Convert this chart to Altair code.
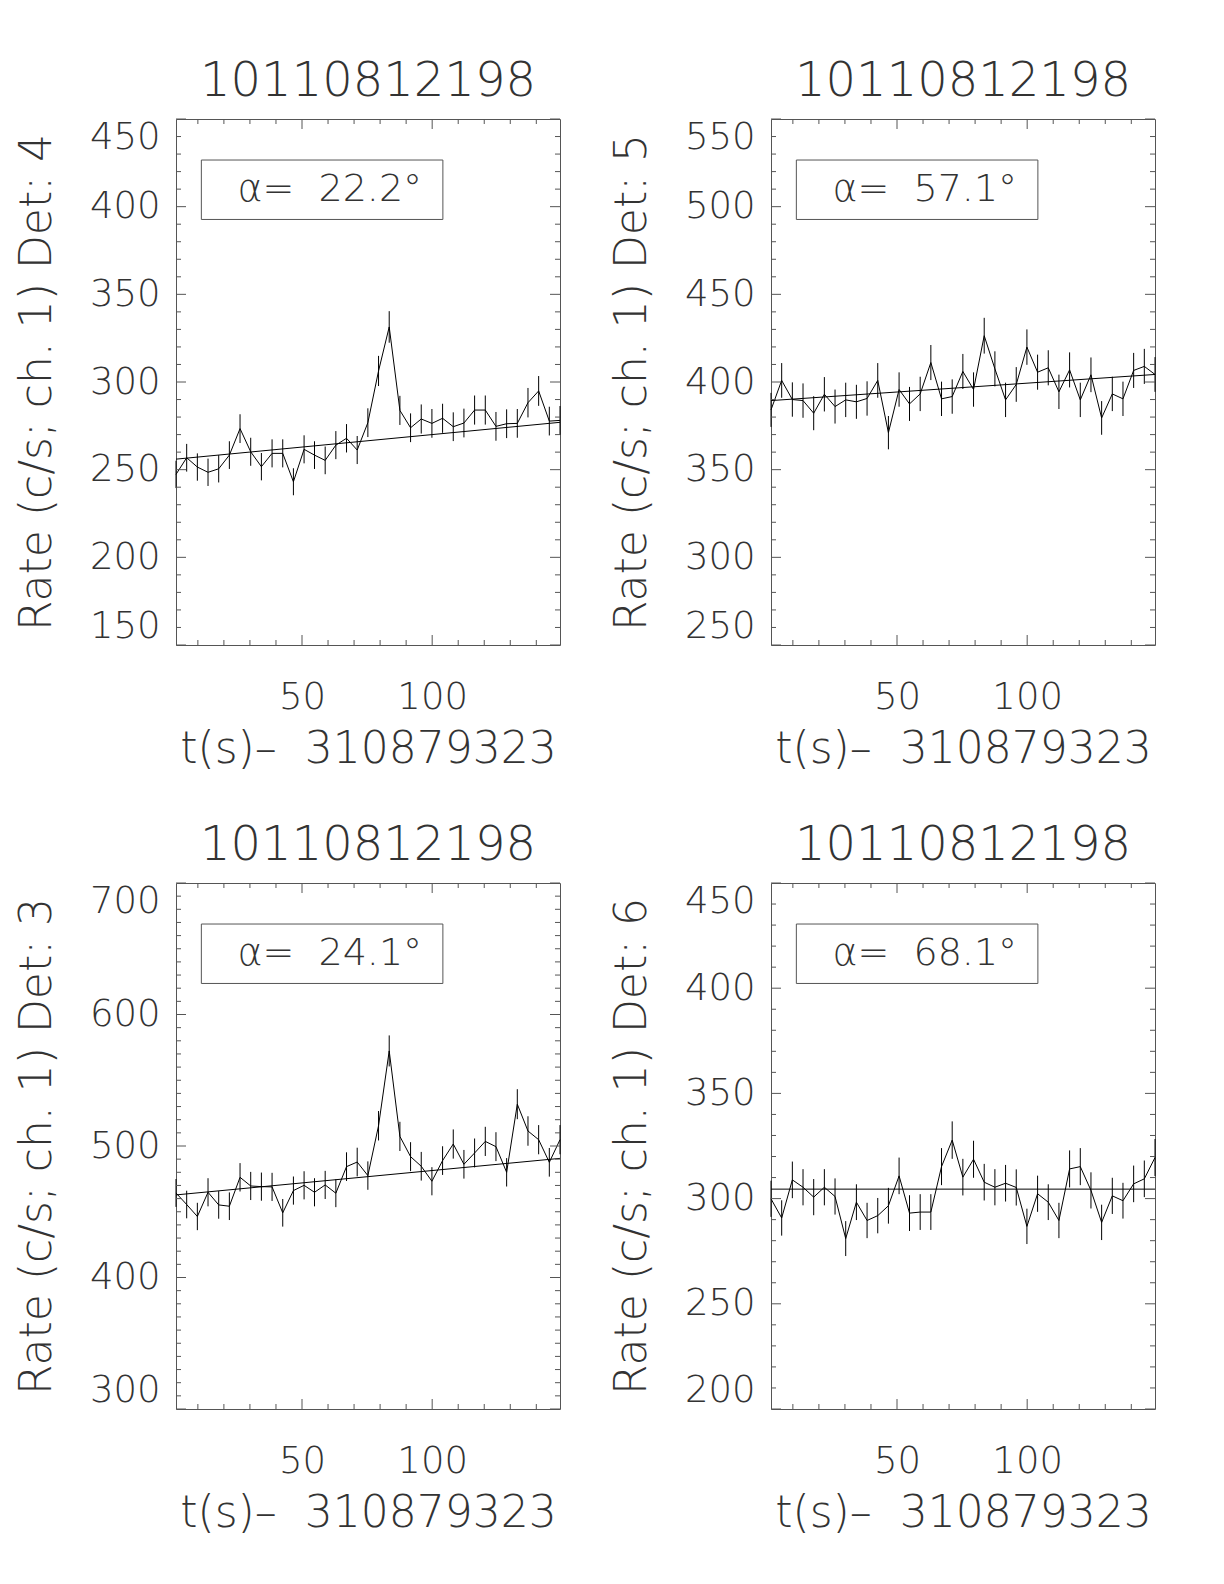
import altair as alt
import pandas as pd

TITLE = "10110812198"
X_TITLE = "t(s)\u2013\u00a0 310879323"
Y_TITLE = "Rate (c/s; ch. 1) Det: {}"

TIMES = [1.6, 5.7, 9.8, 13.9, 18.0, 22.1, 26.2, 30.3, 34.4, 38.5, 42.6, 46.7,
         50.8, 54.8, 58.9, 63.0, 67.1, 71.2, 75.3, 79.4, 83.5, 87.6, 91.7, 95.8,
         99.9, 104.0, 108.1, 112.2, 116.3, 120.4, 124.5, 128.6, 132.7, 136.8,
         140.9, 145.0, 149.1]

DETS = [4, 5, 3, 6]
ALPHAS = ["22.2", "57.1", "24.1", "68.1"]

RATE_DET4 = [247.3, 256.8, 251.5, 248.5, 250.5, 258.3, 273.4, 260.2, 251.7, 259.3,
             259.3, 243.1, 261.6, 258.3, 255.3, 264.0, 267.9, 261.2, 276.8, 306.3,
             331.4, 283.8, 273.9, 278.9, 276.4, 279.3, 274.5, 276.6, 284.0, 284.0,
             274.7, 276.2, 276.4, 288.2, 294.9, 277.7, 278.1]
ERR_DET4 = [7.8, 7.9, 7.8, 7.8, 7.8, 7.9, 8.2, 8.0, 7.8, 8.0, 8.0, 7.7, 8.0, 7.9,
            7.9, 8.0, 8.1, 8.0, 8.2, 8.6, 9.0, 8.3, 8.2, 8.3, 8.2, 8.3, 8.2, 8.2,
            8.3, 8.3, 8.2, 8.2, 8.2, 8.4, 8.5, 8.2, 8.2]

RATE_DET5 = [384.1, 400.9, 390.0, 389.4, 382.2, 393.0, 386.0, 389.8, 388.7, 390.6,
             400.9, 371.1, 395.7, 387.5, 393.2, 411.1, 390.4, 391.7, 406.0, 395.7,
             426.4, 407.5, 389.8, 398.6, 419.9, 405.6, 408.1, 394.4, 406.9, 389.8,
             404.1, 379.5, 393.2, 390.4, 406.6, 408.9, 404.3]
ERR_DET5 = [9.7, 9.9, 9.8, 9.8, 9.7, 9.8, 9.7, 9.8, 9.7, 9.8, 9.9, 9.5, 9.8, 9.7,
            9.8, 10.0, 9.8, 9.8, 10.0, 9.8, 10.2, 10.0, 9.8, 9.9, 10.1, 10.0, 10.0,
            9.8, 10.0, 9.8, 9.9, 9.6, 9.8, 9.8, 10.0, 10.0, 9.9]

RATE_DET3 = [464.3, 455.5, 446.4, 464.8, 455.2, 454.2, 476.2, 469.6, 469.1, 468.9,
             449.2, 466.1, 470.1, 464.8, 470.4, 464.1, 484.3, 487.8, 477.5, 515.4,
             572.3, 507.3, 491.9, 484.6, 473.2, 488.9, 501.5, 486.1, 494.7, 503.5,
             499.5, 480.0, 531.8, 511.4, 504.8, 487.6, 504.8]
ERR_DET3 = [10.6, 10.5, 10.4, 10.7, 10.5, 10.5, 10.8, 10.7, 10.7, 10.7, 10.5, 10.7,
            10.7, 10.7, 10.7, 10.6, 10.9, 10.9, 10.8, 11.2, 11.8, 11.1, 11.0, 10.9,
            10.7, 10.9, 11.1, 10.9, 11.0, 11.1, 11.0, 10.8, 11.4, 11.2, 11.1, 10.9,
            11.1]

RATE_DET6 = [299.9, 290.8, 308.9, 305.4, 300.7, 305.4, 301.0, 281.0, 298.3, 289.6,
             291.9, 296.6, 310.8, 293.1, 293.6, 293.6, 315.2, 327.8, 310.2, 318.7,
             307.8, 305.4, 307.3, 305.3, 286.8, 302.3, 298.3, 289.6, 314.1, 315.2,
             303.9, 288.7, 301.3, 299.0, 307.0, 309.4, 319.5]
ERR_DET6 = [8.6, 8.4, 8.7, 8.6, 8.6, 8.6, 8.6, 8.3, 8.5, 8.4, 8.4, 8.5, 8.7, 8.5,
            8.5, 8.5, 8.8, 8.9, 8.7, 8.8, 8.7, 8.6, 8.7, 8.6, 8.4, 8.6, 8.5, 8.4,
            8.8, 8.8, 8.6, 8.4, 8.6, 8.5, 8.7, 8.7, 8.8]

RATES = [RATE_DET4, RATE_DET5, RATE_DET3, RATE_DET6]
ERRS = [ERR_DET4, ERR_DET5, ERR_DET3, ERR_DET6]
FITS = [[256.0, 277.0], [389.4, 404.3], [462.8, 490.6], [304.5, 304.5]]
Y_DOMAINS = [[150, 450], [250, 550], [300, 700], [200, 450]]
Y_LABELS = [[150, 200, 250, 300, 350, 400, 450],
            [250, 300, 350, 400, 450, 500, 550],
            [300, 400, 500, 600, 700],
            [200, 250, 300, 350, 400, 450]]
X_LABELS = [50, 100]
X_MINOR = [10, 20, 30, 40, 60, 70, 80, 90, 110, 120, 130, 140]

W, H = 384, 526
MAJ, MIN = 10, 5
FONT = "DejaVu Sans"
FW = 200
TXT = "#333333"
FRAME = "#555555"

# annotation box, as fractions of the plot area
BOX = (0.066, 0.695, 0.078, 0.191)
TXT_POS = (0.16, 0.156)


def tick_layers(vals, length, channel):
    df = pd.DataFrame({"v": vals})
    c = alt.Chart(df).mark_rule(color=FRAME, strokeWidth=1)
    out = []
    if channel == "x":
        out.append(c.encode(x=alt.X("v:Q"), y=alt.value(H), y2=alt.value(H - length)))
        out.append(c.encode(x=alt.X("v:Q"), y=alt.value(0), y2=alt.value(length)))
    else:
        out.append(c.encode(y=alt.Y("v:Q"), x=alt.value(0), x2=alt.value(length)))
        out.append(c.encode(y=alt.Y("v:Q"), x=alt.value(W), x2=alt.value(W - length)))
    return out


def panel(i):
    rates, errs = RATES[i], ERRS[i]
    df = pd.DataFrame({
        "t": TIMES,
        "rate": rates,
        "lo": [r - e for r, e in zip(rates, errs)],
        "hi": [r + e for r, e in zip(rates, errs)],
    })
    xs = alt.Scale(domain=[TIMES[0], TIMES[-1]], nice=False, zero=False)
    ys = alt.Scale(domain=Y_DOMAINS[i], nice=False, zero=False)
    xaxis = alt.Axis(values=X_LABELS, ticks=False, domain=False, grid=False,
                     labelPadding=34, title=X_TITLE, titlePadding=12, format="d")
    yaxis = alt.Axis(values=Y_LABELS[i], ticks=False, domain=False, grid=False,
                     labelFlush=True, labelPadding=16, title=Y_TITLE.format(DETS[i]),
                     titlePadding=30, format="d")
    line = alt.Chart(df).mark_line(color="black", strokeWidth=1).encode(
        x=alt.X("t:Q", scale=xs, axis=xaxis),
        y=alt.Y("rate:Q", scale=ys, axis=yaxis),
    )
    err = alt.Chart(df).mark_rule(color="black", strokeWidth=1).encode(
        x="t:Q", y="lo:Q", y2="hi:Q")
    fit_df = pd.DataFrame({"t": [TIMES[0], TIMES[-1]], "rate": FITS[i]})
    fit = alt.Chart(fit_df).mark_line(color="black", strokeWidth=1).encode(
        x="t:Q", y="rate:Q")

    ymin, ymax = Y_DOMAINS[i]
    y_major = Y_LABELS[i]
    y_minor = [v for v in range(ymin, ymax + 1, 10) if v not in y_major]
    ticks = (tick_layers(X_LABELS, MAJ, "x") + tick_layers(X_MINOR, MIN, "x")
             + tick_layers(y_major, MAJ, "y") + tick_layers(y_minor, MIN, "y"))

    ann = pd.DataFrame({"label": ["\u03b1=\u00a0 " + ALPHAS[i] + "\u00b0"]})
    box = alt.Chart(ann).mark_rect(fill="white", fillOpacity=0, stroke=FRAME,
                                   strokeWidth=1).encode(
        x=alt.value(BOX[0] * W), x2=alt.value(BOX[1] * W),
        y=alt.value(BOX[2] * H), y2=alt.value(BOX[3] * H))
    txt = alt.Chart(ann).mark_text(align="left", baseline="alphabetic", font=FONT,
                                   fontSize=38, fontWeight=FW, color=TXT).encode(
        x=alt.value(TXT_POS[0] * W), y=alt.value(TXT_POS[1] * H), text="label:N")

    return alt.layer(line, err, fit, *ticks, box, txt).properties(
        width=W, height=H,
        title=alt.TitleParams(TITLE, anchor="middle", frame="group"),
    )


chart = alt.concat(
    panel(0), panel(1), panel(2), panel(3),
    columns=2, spacing={"row": 238, "column": 211}, bounds="flush",
).properties(
    padding={"left": 6, "top": 49, "right": 10, "bottom": 10}
).configure_axis(
    labelFont=FONT, labelFontSize=37, labelFontWeight=FW, labelColor=TXT,
    titleFont=FONT, titleFontSize=44, titleFontWeight=FW, titleColor=TXT,
).configure_title(
    font=FONT, fontSize=48, fontWeight=FW, color=TXT, offset=12,
).configure_view(stroke=FRAME, strokeWidth=1)

chart.save("out.html", embed_options={"renderer": "svg", "actions": False})
